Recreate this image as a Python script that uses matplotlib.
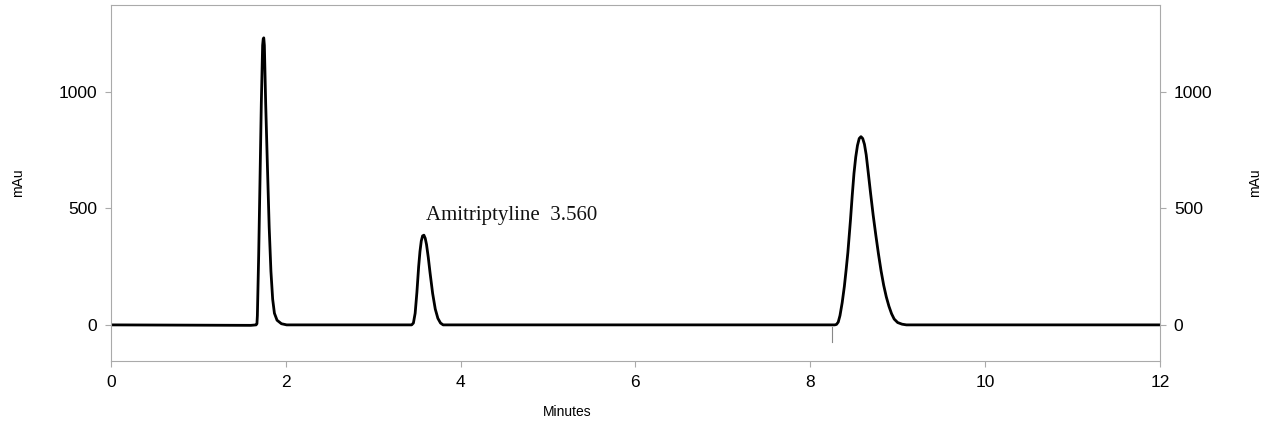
import matplotlib
matplotlib.use("Agg")
import matplotlib.pyplot as plt

# Trace (time in minutes, signal in mAu)
time_min = [
    0.0, 1.60, 1.66, 1.67, 1.675, 1.69, 1.705, 1.72, 1.735, 1.742, 1.748,
    1.755, 1.77, 1.79, 1.81, 1.83, 1.85, 1.87, 1.90, 1.95, 2.01,
    3.44, 3.46, 3.48, 3.50, 3.52, 3.535, 3.55, 3.565, 3.58, 3.595, 3.61,
    3.63, 3.65, 3.68, 3.71, 3.74, 3.77, 3.80,
    8.28, 8.30, 8.32, 8.34, 8.365, 8.39, 8.41, 8.43, 8.46, 8.48, 8.50,
    8.52, 8.54, 8.56, 8.58, 8.60, 8.62, 8.64, 8.66, 8.69, 8.72, 8.75,
    8.78, 8.81, 8.84, 8.87, 8.90, 8.93, 8.96, 9.00, 9.05, 9.10, 12.0,
]
signal_mau = [
    0, -2, 0, 5, 40, 300, 620, 950, 1200, 1228, 1232,
    1200, 950, 680, 420, 230, 110, 50, 20, 5, 0,
    0, 8, 50, 140, 250, 315, 360, 382, 385, 372, 345,
    290, 225, 135, 68, 28, 8, 0,
    0, 2, 12, 40, 95, 165, 235, 310, 450, 555, 650,
    720, 770, 800, 808, 800, 775, 730, 665, 565, 470, 385,
    305, 232, 170, 120, 80, 48, 25, 10, 3, 0, 0,
]

x_ticks = [0, 2, 4, 6, 8, 10, 12]
y_ticks = [0, 500, 1000]
peak_label = "Amitriptyline  3.560"
peak_label_pos = (3.60, 470)
marker_time = 8.25

fig = plt.figure(figsize=(12.71, 4.25), dpi=100)
ax = fig.add_axes([0.0873, 0.1506, 0.8253, 0.8376])

ax.plot(time_min, signal_mau, color="black", linewidth=2.0,
        solid_joinstyle="round", solid_capstyle="round")

# small integration marker below the baseline
ax.plot([marker_time, marker_time], [-10, -75], color="#888888", linewidth=0.8)

ax.text(peak_label_pos[0], peak_label_pos[1], peak_label, family="Liberation Serif",
        fontsize=15, ha="left", va="center", color="#111111")

ax.set_xlim(0, 12)
ax.set_ylim(-155, 1373)
ax.set_xticks(x_ticks)
ax.set_yticks(y_ticks)

for s in ax.spines.values():
    s.set_color("#aaaaaa")
    s.set_linewidth(0.8)

ax.tick_params(axis="both", direction="out", length=4, width=0.8, color="#aaaaaa",
               labelsize=12.5, pad=6, labelcolor="black")
ax.tick_params(axis="y", left=True, right=True, labelleft=True, labelright=True)
for lab in ax.get_xticklabels():
    lab.set_family("Liberation Sans")
for t in ax.yaxis.get_major_ticks():
    t.label1.set_family("Liberation Sans")
    t.label2.set_family("Liberation Sans")

fig.text(567 / 1271, 1 - 412 / 425, "Minutes", family="Liberation Sans",
         fontsize=10, ha="center", va="center")
fig.text(18 / 1271, 1 - 183 / 425, "mAu", family="Liberation Sans",
         fontsize=10, rotation=90, ha="center", va="center")
fig.text(1255 / 1271, 1 - 183 / 425, "mAu", family="Liberation Sans",
         fontsize=10, rotation=90, ha="center", va="center")

fig.savefig("out.png", dpi=100, facecolor="white")
